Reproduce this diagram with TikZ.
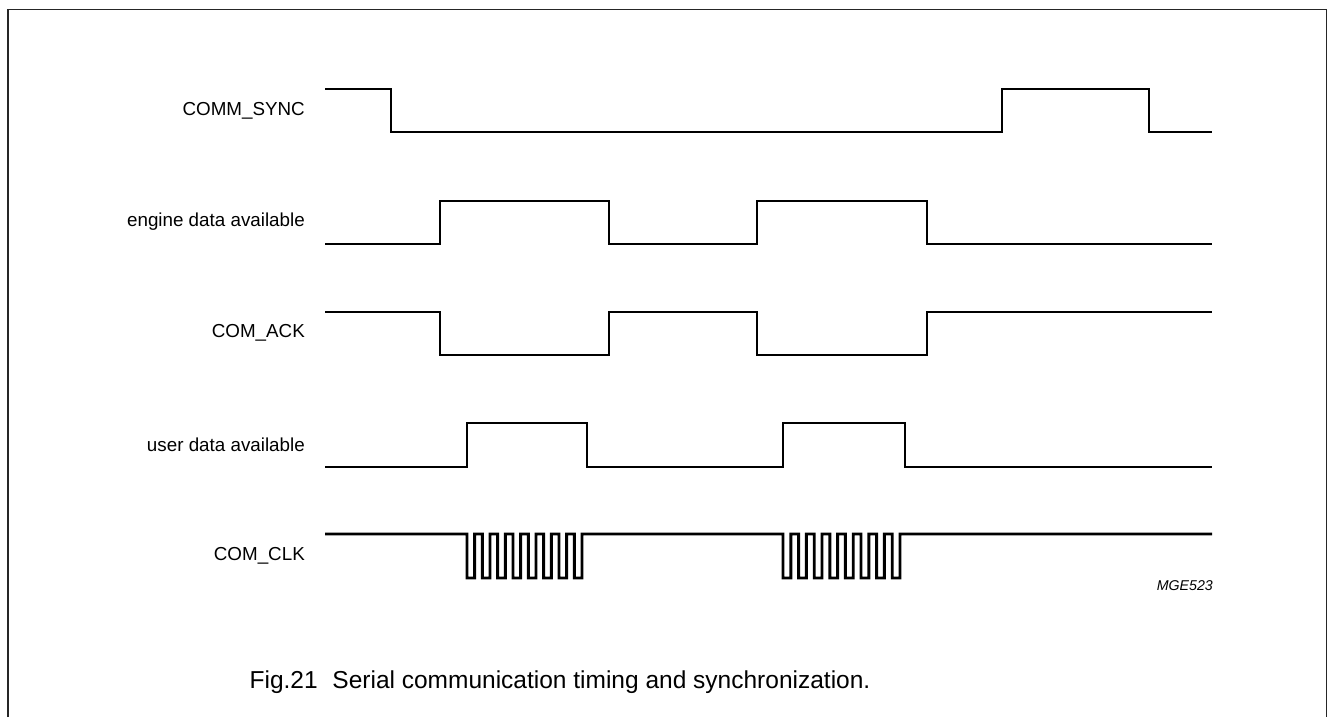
\documentclass[tikz,border=0pt]{standalone}
\usepackage{fontspec}
\setmainfont{Liberation Sans}
\begin{document}
\begin{tikzpicture}[x=1pt,y=-1pt,
  wave/.style={line width=2.9pt,line join=miter,line cap=butt},
  siglabel/.style={anchor=east,inner sep=0pt,font=\fontsize{18.8}{22}\selectfont},
  frame/.style={line width=1.3pt,draw=black!85}]
\useasboundingbox (0,0) rectangle (1329,717);
\draw[frame] (8,717) -- (8,9.5) -- (1326.8,9.5) -- (1326.8,717);
% labels
\node[siglabel] (l1) at (305,111) {COMM\_SYNC};
\node[siglabel] (l2) at (305,222) {engine data available};
\node[siglabel] (l3) at (305,333) {COM\_ACK};
\node[siglabel] (l4) at (305,445) {user data available};
\node[siglabel] (l5) at (305,556) {COM\_CLK};
% COMM_SYNC
\draw[wave] (325,89) -- (391,89) -- (391,132) -- (1002,132) -- (1002,89) -- (1149,89) -- (1149,132) -- (1212,132);
% engine data available
\draw[wave] (325,244) -- (440,244) -- (440,201) -- (609,201) -- (609,244) -- (757,244) -- (757,201) -- (927,201) -- (927,244) -- (1212,244);
% COM_ACK
\draw[wave] (325,312) -- (440,312) -- (440,355) -- (609,355) -- (609,312) -- (757,312) -- (757,355) -- (927,355) -- (927,312) -- (1212,312);
% user data available
\draw[wave] (325,467) -- (467,467) -- (467,423) -- (587,423) -- (587,467) -- (783,467) -- (783,423) -- (905,423) -- (905,467) -- (1212,467);
% COM_CLK
\draw[wave] (325,534) -- (467,534)
  \foreach \i [evaluate=\i as \xa using 467+15.333*\i,
               evaluate=\i as \xb using 467+15.333*\i+7.667,
               evaluate=\i as \xc using 467+15.333*\i+15.333] in {0,...,6}
    { -- (\xa,578) -- (\xb,578) -- (\xb,534) -- (\xc,534) }
  -- (574.33,578) -- (582,578) -- (582,534)
  -- (783,534)
  \foreach \i [evaluate=\i as \xa using 783+15.6*\i,
               evaluate=\i as \xb using 783+15.6*\i+7.8,
               evaluate=\i as \xc using 783+15.6*\i+15.6] in {0,...,6}
    { -- (\xa,578) -- (\xb,578) -- (\xb,534) -- (\xc,534) }
  -- (892.2,578) -- (900,578) -- (900,534)
  -- (1212,534);
\node[inner sep=0pt,anchor=east,font=\fontsize{14.2}{16}\selectfont\itshape] (code) at (1213,586) {MGE523};
\node[inner sep=0pt,font=\fontsize{24.5}{28}\selectfont] (cap) at (560,682) {Fig.21\hspace{0.6em}Serial communication timing and synchronization.};
\end{tikzpicture}
\end{document}
